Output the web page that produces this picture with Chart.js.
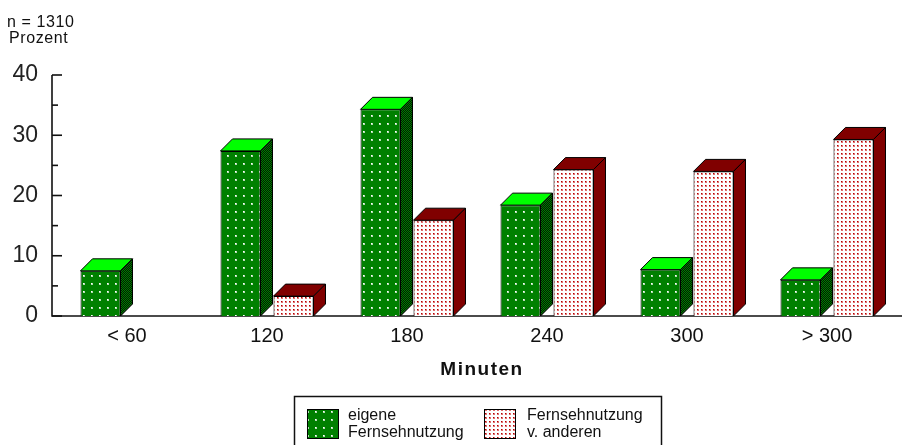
<!DOCTYPE html>
<html>
<head>
<meta charset="utf-8">
<script src="https://cdn.jsdelivr.net/npm/chart.js@4.4.1/dist/chart.umd.min.js"></script>
<style>
  html, body { margin: 0; padding: 0; background: #fff; overflow: hidden; }
  canvas { display: block; }
</style>
</head>
<body>
<canvas id="c" width="902" height="445"></canvas>
<script>
// Fernsehnutzung pro Tag, Anteile in Prozent
const categories = ['< 60', '120', '180', '240', '300', '> 300'];
const eigeneNutzung = [7.5, 27.4, 34.3, 18.4, 7.7, 6.0];
const nutzungAndere = [null, 3.3, 15.9, 24.3, 24.0, 29.3];
const seriesLabels = [['eigene', 'Fernsehnutzung'], ['Fernsehnutzung', 'v. anderen']];
const yTicks = [0, 10, 20, 30, 40];
const sampleNote = 'n = 1310';
const unitLabel = 'Prozent';
const axisTitle = 'Minuten';

const FONT = '"Liberation Sans", Arial, sans-serif';
const DEPTH = 12;

function makePattern(w, h, paint) {
  const c = document.createElement('canvas');
  c.width = w; c.height = h;
  const g = c.getContext('2d');
  paint(g);
  return g.createPattern(c, 'repeat');
}

// green front: white dots on dark green
const greenFront = makePattern(8, 8, g => {
  g.fillStyle = '#008000'; g.fillRect(0, 0, 8, 8);
  g.fillStyle = '#b8dcb8'; g.fillRect(3, 3, 2, 2);
  g.fillStyle = '#ffffff'; g.fillRect(3, 3, 1, 1);
});
// green side: dithered green / black
const greenSide = makePattern(2, 2, g => {
  g.fillStyle = '#001a00'; g.fillRect(0, 0, 2, 2);
  g.fillStyle = '#008000'; g.fillRect(0, 0, 1, 1); g.fillRect(1, 1, 1, 1);
});
// pink front: red dots on white
const pinkFront = makePattern(4, 4, g => {
  g.fillStyle = '#ffffff'; g.fillRect(0, 0, 4, 4);
  g.fillStyle = '#e07070'; g.fillRect(1, 1, 2, 2);
  g.fillStyle = '#b00000'; g.fillRect(1, 1, 1, 1);
});

const faceStyles = [
  { top: '#00ff00', side: greenSide },
  { top: '#800000', side: '#800000' }
];

// axis lines and tick marks, drawn beneath the bars
const axesPlugin = {
  id: 'axesLines',
  beforeDatasetsDraw(chart) {
    const { ctx, chartArea } = chart;
    const y = chart.scales.y;
    const ax = chartArea.left - 5;
    ctx.save();
    ctx.strokeStyle = '#111';
    ctx.lineWidth = 1.6;
    ctx.beginPath();
    ctx.moveTo(ax, y.getPixelForValue(40));
    ctx.lineTo(ax, y.getPixelForValue(0));
    ctx.lineTo(chart.width, y.getPixelForValue(0));
    ctx.stroke();
    for (let v = 0; v <= 40; v += 5) {
      const py = y.getPixelForValue(v);
      const len = v % 10 === 0 ? 10 : 6;
      ctx.beginPath();
      ctx.moveTo(ax, py);
      ctx.lineTo(ax + len, py);
      ctx.stroke();
    }
    ctx.restore();
  }
};

// top and side faces of each bar
const depthPlugin = {
  id: 'barDepth',
  afterDatasetsDraw(chart) {
    const { ctx } = chart;
    ctx.save();
    ctx.strokeStyle = '#000';
    ctx.lineWidth = 1;
    ctx.lineJoin = 'miter';
    chart.data.datasets.forEach((ds, i) => {
      const meta = chart.getDatasetMeta(i);
      const st = faceStyles[i];
      meta.data.forEach((bar, j) => {
        if (ds.data[j] == null) return;
        const { x, y, base, width } = bar.getProps(['x', 'y', 'base', 'width'], true);
        const L = x - width / 2, R = x + width / 2, d = DEPTH;
        ctx.beginPath();
        ctx.moveTo(L, y);
        ctx.lineTo(L + d, y - d);
        ctx.lineTo(R + d, y - d);
        ctx.lineTo(R, y);
        ctx.closePath();
        ctx.fillStyle = st.top;
        ctx.fill();
        ctx.stroke();
        ctx.beginPath();
        ctx.moveTo(R, y);
        ctx.lineTo(R + d, y - d);
        ctx.lineTo(R + d, base - d);
        ctx.lineTo(R, base);
        ctx.closePath();
        ctx.fillStyle = st.side;
        ctx.fill();
        ctx.stroke();
      });
    });
    ctx.restore();
  }
};

// headings, axis title and legend
const textPlugin = {
  id: 'texts',
  afterDraw(chart) {
    const { ctx } = chart;
    ctx.save();
    ctx.fillStyle = '#111';
    ctx.textAlign = 'left';
    ctx.textBaseline = 'alphabetic';
    ctx.font = '16px ' + FONT;
    ctx.letterSpacing = '0.6px';
    ctx.fillText(sampleNote, 7, 27);
    ctx.fillText(unitLabel, 9, 43);

    ctx.font = 'bold 19px ' + FONT;
    ctx.letterSpacing = '1.5px';
    ctx.textAlign = 'center';
    ctx.fillText(axisTitle, 482, 375);
    ctx.letterSpacing = '0px';

    // legend frame
    ctx.strokeStyle = '#111';
    ctx.lineWidth = 1.5;
    ctx.strokeRect(294.5, 396.5, 367, 60);

    const swatches = [
      { x: 307, fill: greenFront, tx: 348 },
      { x: 484, fill: pinkFront, tx: 527 }
    ];
    ctx.font = '16px ' + FONT;
    ctx.textAlign = 'left';
    swatches.forEach((s, i) => {
      ctx.fillStyle = s.fill;
      ctx.fillRect(s.x, 409, 32, 30);
      ctx.strokeStyle = '#000';
      ctx.lineWidth = 1;
      ctx.strokeRect(s.x + 0.5, 409.5, 31, 29);
      ctx.fillStyle = '#111';
      ctx.fillText(seriesLabels[i][0], s.tx, 420);
      ctx.fillText(seriesLabels[i][1], s.tx, 437);
    });
    ctx.restore();
  }
};

new Chart(document.getElementById('c'), {
  type: 'bar',
  data: {
    labels: categories,
    datasets: [
      {
        label: seriesLabels[0].join(' '),
        data: eigeneNutzung,
        backgroundColor: greenFront,
        borderColor: '#000',
        borderWidth: 1,
        categoryPercentage: 0.757,
        barPercentage: 0.755
      },
      {
        label: seriesLabels[1].join(' '),
        data: nutzungAndere,
        backgroundColor: pinkFront,
        borderColor: '#000',
        borderWidth: 1,
        categoryPercentage: 0.757,
        barPercentage: 0.755
      }
    ]
  },
  options: {
    responsive: false,
    animation: false,
    devicePixelRatio: 1,
    layout: { padding: { top: 75, right: 5, left: 0, bottom: 0 } },
    plugins: { legend: { display: false }, tooltip: { enabled: false } },
    scales: {
      x: {
        grid: { display: false, drawTicks: false },
        border: { display: false },
        ticks: {
          font: { family: FONT, size: 20 },
          color: '#111',
          padding: 8,
          maxRotation: 0,
          autoSkip: false
        },
        afterFit(scale) { scale.height = 129; }
      },
      y: {
        min: 0,
        max: 40,
        grid: { display: false, drawTicks: false },
        border: { display: false },
        afterBuildTicks(scale) { scale.ticks = yTicks.map(v => ({ value: v })); },
        ticks: {
          font: { family: FONT, size: 23 },
          color: '#222',
          padding: 19
        },
        afterFit(scale) { scale.width = 57; }
      }
    }
  },
  plugins: [axesPlugin, depthPlugin, textPlugin]
});
</script>
</body>
</html>
